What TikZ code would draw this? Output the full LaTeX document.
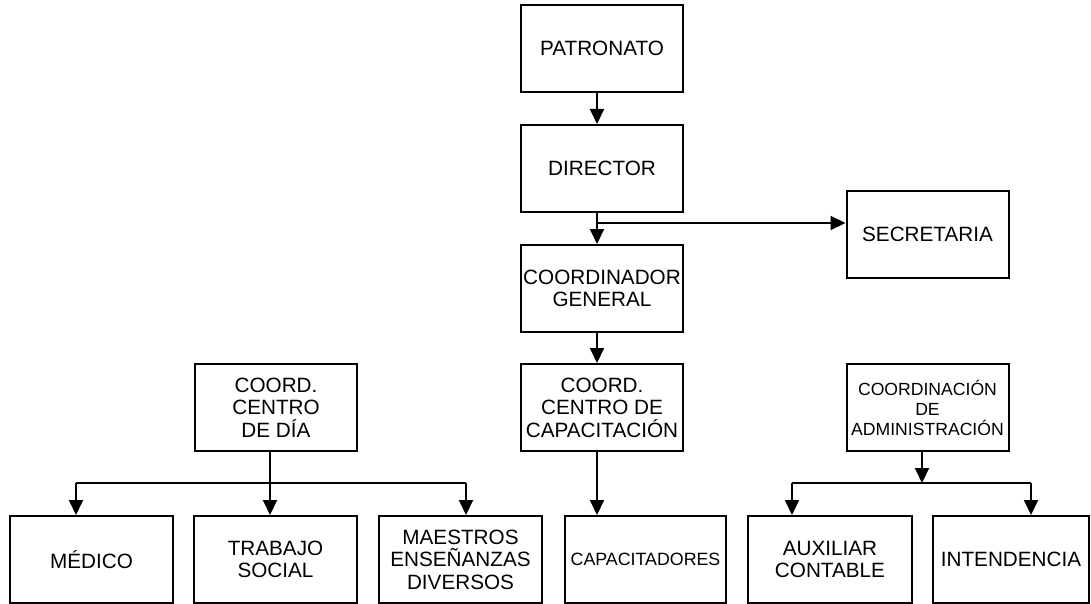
\documentclass[tikz,border=0pt]{standalone}
\usepackage{fontspec}
\setmainfont{Liberation Sans}
\usetikzlibrary{arrows.meta}
\tikzset{
  box/.style={draw, line width=2pt, minimum width=162pt, minimum height=87pt,
    inner sep=0pt, align=center, font=\fontsize{20.7}{22.6}\selectfont},
  smalltext/.style={font=\fontsize{17.8}{20}\selectfont},
  admtext/.style={font=\fontsize{17.6}{20}\selectfont},
  conn/.style={line width=2pt},
  arr/.style={line width=2pt, -{Triangle[length=15pt,width=14pt]}}
}
\begin{document}
\begin{tikzpicture}[x=1pt,y=-1pt]
\useasboundingbox[fill=white] (0,0) rectangle (1091,604);
% top column
\node[box] (pat) at (602,48.5) {PATRONATO};
\node[box] (dir) at (602,168.5) {DIRECTOR};
\node[box] (cg)  at (602,288.5) {COORDINADOR\\GENERAL};
\node[box] (sec) at (927.5,234) {SECRETARIA};
% coordinators
\node[box] (cdd) at (276,407.5) {COORD.\\CENTRO\\DE DÍA};
\node[box] (ccc) at (602,407.5) {COORD.\\CENTRO DE\\CAPACITACIÓN};
\node[box,admtext] (adm) at (927.5,407.5) {COORDINACIÓN\\DE\\ADMINISTRACIÓN};
% bottom row
\node[box,minimum width=163pt] (med) at (91.5,559.5) {MÉDICO};
\node[box,minimum width=163pt] (ts)  at (275.5,559.5) {TRABAJO\\SOCIAL};
\node[box,minimum width=163pt] (mae) at (460.5,559.5) {MAESTROS\\ENSEÑANZAS\\DIVERSOS};
\node[box,smalltext,minimum width=161pt] (capd) at (645.5,559.5) {CAPACITADORES};
\node[box,minimum width=164pt] (aux) at (830,559.5) {AUXILIAR\\CONTABLE};
\node[box,minimum width=156pt] (int) at (1011,559.5) {INTENDENCIA};
% central connectors
\coordinate (j1) at (597,223);
\draw[arr] ([xshift=-5pt]pat.south) -- ([xshift=-5pt]dir.north);
\draw[conn] ([xshift=-5pt]dir.south) -- (j1);
\draw[arr] (j1) -- ([xshift=-5pt]cg.north);
\draw[arr] (j1) -- (sec.west |- j1);
\draw[arr] ([xshift=-5pt]cg.south) -- ([xshift=-5pt]ccc.north);
\draw[arr] ([xshift=-5pt]ccc.south) -- ([xshift=-5pt]ccc.south |- capd.north);
% centro de dia
\coordinate (h2l) at (76,483);
\coordinate (h2r) at (466,483);
\draw[conn] (h2l) -- (h2r);
\draw[arr] ([xshift=-6pt]cdd.south) -- ([xshift=-6pt]cdd.south |- ts.north);
\draw[arr] (h2l) -- (h2l |- med.north);
\draw[arr] (h2r) -- (h2r |- mae.north);
% administracion
\coordinate (h3l) at (792,483);
\coordinate (h3r) at (1031,483);
\draw[conn] (h3l) -- (h3r);
\draw[arr] ([xshift=-5.5pt]adm.south) -- ([xshift=-5.5pt]adm.south |- h3l);
\draw[arr] (h3l) -- (h3l |- aux.north);
\draw[arr] (h3r) -- (h3r |- int.north);
\end{tikzpicture}
\end{document}
